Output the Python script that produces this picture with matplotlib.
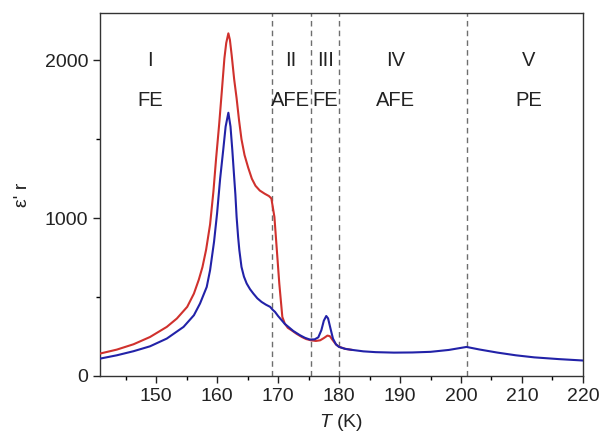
import matplotlib
matplotlib.use("Agg")
import matplotlib.pyplot as plt
from matplotlib.ticker import MultipleLocator

plt.rcParams['font.family'] = ['Liberation Sans', 'DejaVu Sans']
plt.rcParams['mathtext.fontset'] = 'custom'
plt.rcParams['mathtext.it'] = 'Liberation Sans:italic'
plt.rcParams['mathtext.rm'] = 'Liberation Sans'

# Real part of the dielectric permittivity vs temperature
T_red = [140.8, 143.55, 146.3, 149.0, 151.75, 153.4, 155.1, 156.2, 157.0, 157.6,
         158.2, 158.85, 159.4, 159.84, 160.33, 160.77, 161.2, 161.5, 161.85, 162.1,
         162.4, 162.8, 163.2, 163.6, 164.0, 164.5, 165.1, 165.7, 166.3, 167.0,
         167.8, 168.5, 168.9, 169.4, 169.8, 170.2, 170.7, 171.1, 171.6, 172.2,
         173.0, 173.9, 174.6, 175.4, 176.2, 176.9, 177.5, 178.1, 178.5, 179.0,
         179.5, 180.0, 181.0, 182.0]
eps_red = [142, 167, 201, 247, 311, 364, 438, 522, 610, 690,
           800, 960, 1170, 1379, 1590, 1801, 2013, 2110, 2171, 2130,
           2030, 1880, 1760, 1620, 1500, 1400, 1320, 1250, 1205, 1175,
           1155, 1140, 1125, 1008, 797, 586, 374, 332, 305, 290,
           268, 247, 234, 226, 222, 226, 240, 256, 252, 225,
           200, 185, 172, 166]

T_blue = [140.8, 143.55, 146.3, 149.0, 151.75, 154.5, 156.2, 157.2, 158.3, 158.85,
          159.5, 160.0, 160.5, 161.0, 161.4, 161.85, 162.2, 162.5, 162.8, 163.0,
          163.2, 163.45, 163.65, 164.0, 164.4, 164.85, 165.4, 165.95, 166.6, 167.3,
          168.0, 168.7, 169.1, 169.5, 170.0, 170.6, 171.1, 171.7, 172.5, 173.6,
          174.4, 175.2, 176.0, 176.6, 177.1, 177.5, 177.9, 178.2, 178.6, 179.0,
          179.5, 180.0, 181.0, 182.0, 184.0, 186.0, 189.0, 192.0, 195.0, 198.0,
          200.9, 203.0, 206.0, 209.0, 212.0, 216.0, 220.0]
eps_blue = [110, 131, 157, 188, 237, 311, 385, 459, 564, 670,
            850, 1031, 1250, 1430, 1580, 1668, 1580, 1430, 1260, 1150,
            1008, 880, 797, 691, 630, 586, 550, 522, 492, 469,
            452, 438, 420, 406, 380, 353, 330, 311, 285, 258,
            242, 231, 232, 245, 290, 350, 380, 365, 300, 237,
            200, 184, 172, 166, 156, 151, 148, 149, 153, 165,
            184, 168, 148, 131, 118, 107, 98]

# Phase boundaries (K)
boundaries = [169, 175.4, 180, 201]

# Phase labels: (T position, numeral, phase)
phase_T = [149, 172.1, 177.8, 189.3, 211.1]
phase_num = ['I', 'II', 'III', 'IV', 'V']
phase_name = ['FE', 'AFE', 'FE', 'AFE', 'PE']

fig = plt.figure(figsize=(6.01, 4.40), dpi=100)
ax = fig.add_axes([0.1664, 0.1455, 0.8036, 0.825])

for b in boundaries:
    ax.axvline(b, color='#6e6e6e', lw=1.0, ls=(0, (4, 3)), zorder=1)

ax.plot(T_red, eps_red, color='#d0312d', lw=1.5, zorder=3)
ax.plot(T_blue, eps_blue, color='#2222a8', lw=1.5, zorder=4)

for x, n, p in zip(phase_T, phase_num, phase_name):
    ax.text(x, 2000, n, ha='center', va='center', fontsize=14.5, color='#222222')
    ax.text(x, 1748, p, ha='center', va='center', fontsize=14.5, color='#222222')

ax.set_xlim(140.8, 220)
ax.set_ylim(0, 2300)
ax.xaxis.set_major_locator(MultipleLocator(10))
ax.xaxis.set_minor_locator(MultipleLocator(5))
ax.yaxis.set_major_locator(MultipleLocator(1000))
ax.yaxis.set_minor_locator(MultipleLocator(500))
ax.tick_params(which='major', direction='out', length=5, width=1, labelsize=14,
               colors='#222222')
ax.tick_params(which='minor', direction='out', length=3, width=1)
for s in ax.spines.values():
    s.set_color('#333333')
    s.set_linewidth(1.0)

ax.set_xlabel(r'$T$ (K)', fontsize=14, color='#222222', labelpad=5)
ax.set_ylabel("ε' r", fontsize=14, color='#222222', labelpad=10)

fig.savefig('out.png', dpi=100)
